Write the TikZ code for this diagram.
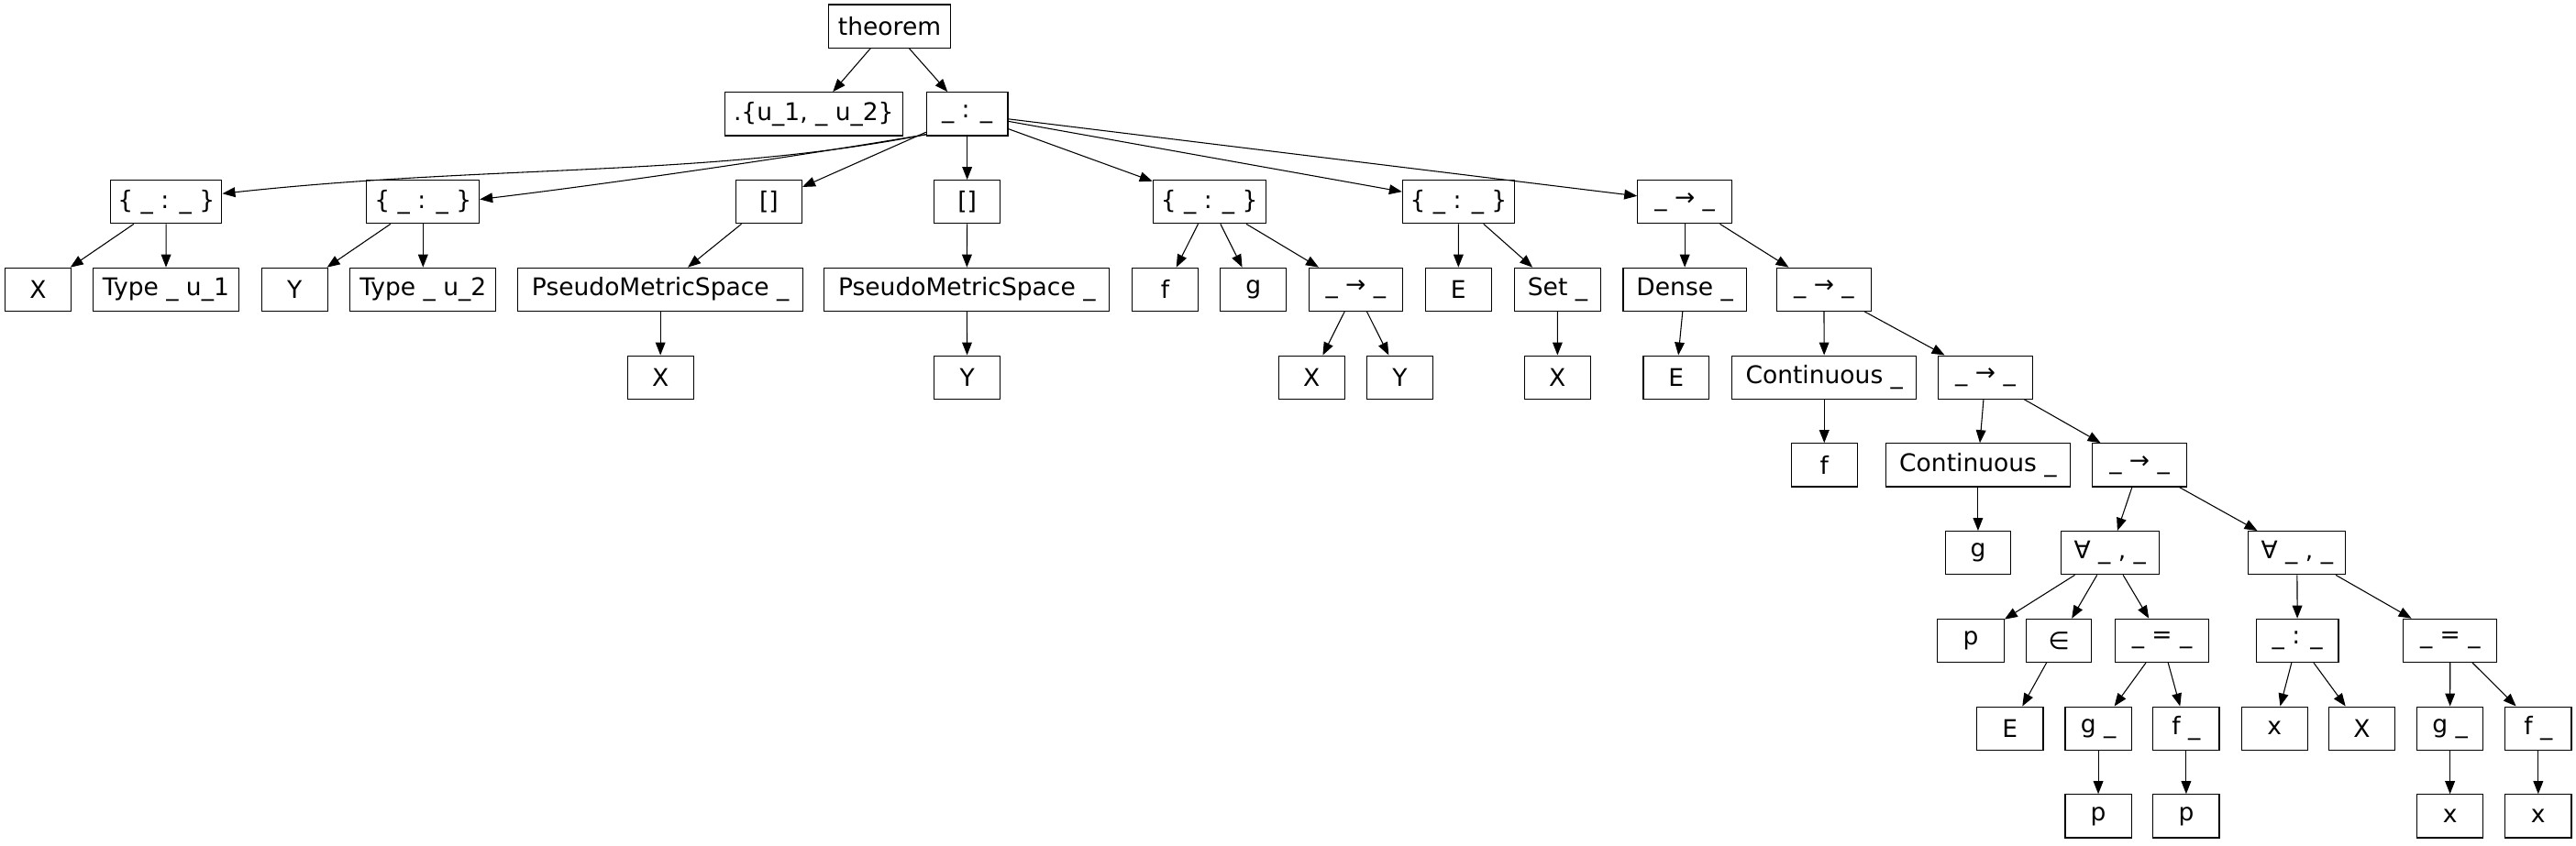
\documentclass[tikz,border=0pt]{standalone}
\usepackage{fontspec}
\setmainfont{DejaVu Sans}
\usepackage{tikz}
\usetikzlibrary{arrows.meta}

\begin{document}
\begin{tikzpicture}[
  x=1pt, y=-1pt,
  nd/.style={draw, line width=0.6pt, minimum width=#1pt, minimum height=26.4pt,
    inner sep=1pt, font=\fontsize{14.8}{17}\selectfont},
  nd/.default=40,
  arr/.style={-{Triangle[length=7.8pt, width=6pt]}, line width=0.6pt}
]
  \useasboundingbox (0,0) rectangle (1568,515.2);

  % Root and binder
  \node[nd=74.3] (thm) at (541.5,16) {theorem};
  \node[nd=108]  (binders) at (495.3,69.4) {.\{u\_1, \_ u\_2\}};
  \node[nd=49.5] (colon) at (588.7,69.4) {\_ : \_};

  % Hypotheses
  \node[nd=67.7] (instX)  at (101.2,122.9) {\{ \_ : \_ \}};
  \node[nd=68.5] (instY)  at (257.5,122.9) {\{ \_ : \_ \}};
  \node[nd=40.3] (brk1)   at (468,122.9)   {[]};
  \node[nd=40.3] (brk2)   at (588.7,122.9) {[]};
  \node[nd=68.6] (instfg) at (736.1,122.9) {\{ \_ : \_ \}};
  \node[nd=68.2] (instE)  at (887.8,122.9) {\{ \_ : \_ \}};
  \node[nd=57.4] (imp1)   at (1025.5,122.9) {\_ → \_};

  % Arguments
  \node[nd]       (vX)    at (23.1,176.3)   {X};
  \node[nd=88.5]  (typ1)  at (101,176.3)    {Type \_ u\_1};
  \node[nd]       (vY)    at (179.3,176.3)  {Y};
  \node[nd=88.9]  (typ2)  at (257.5,176.3)  {Type \_ u\_2};
  \node[nd=173.5] (pms1)  at (402,176.3)    {PseudoMetricSpace \_};
  \node[nd=173.5] (pms2)  at (588.5,176.3)  {PseudoMetricSpace \_};
  \node[nd=40.4]  (vf)    at (709.2,176.3)  {f};
  \node[nd]       (vg)    at (762.9,176.3)  {g};
  \node[nd=57]    (fun)   at (825.2,176.3)  {\_ → \_};
  \node[nd]       (vE)    at (887.7,176.3)  {E};
  \node[nd=52.9]  (set)   at (948.1,176.3)  {Set \_};
  \node[nd=75]    (dense) at (1025.5,176.3) {Dense \_};
  \node[nd=57.2]  (imp2)  at (1110.2,176.3) {\_ → \_};

  \node[nd=40.3]  (pmsX)   at (402,229.8)    {X};
  \node[nd=40.3]  (pmsY)   at (588.7,229.8)  {Y};
  \node[nd]       (funX)   at (798.4,229.8)  {X};
  \node[nd=40.4]  (funY)   at (852.1,229.8)  {Y};
  \node[nd]       (setX)   at (948,229.8)    {X};
  \node[nd]       (denseE) at (1020.3,229.8) {E};
  \node[nd=112.2] (cont1)  at (1110.4,229.8) {Continuous \_};
  \node[nd=57.3]  (imp3)   at (1208.5,229.8) {\_ → \_};

  \node[nd=40.3]  (cont1f) at (1110.4,283.2) {f};
  \node[nd=112.1] (cont2)  at (1204,283.2)   {Continuous \_};
  \node[nd=57.7]  (imp4)   at (1302.3,283.2) {\_ → \_};

  % Conclusion
  \node[nd]      (cont2g) at (1204,336.7)   {g};
  \node[nd=59.6] (all1)   at (1284.3,336.7) {∀ \_ , \_};
  \node[nd=59.2] (all2)   at (1398.2,336.7) {∀ \_ , \_};

  \node[nd=40.5] (pvar) at (1199.6,390.1) {p};
  \node[nd]      (mem)  at (1253.2,390.1) {∈};
  \node[nd=57.3] (eq1)  at (1316,390.1)   {\_ = \_};
  \node[nd=50]   (typx) at (1398.4,390.1) {\_ : \_};
  \node[nd=57]   (eq2)  at (1491.4,390.1) {\_ = \_};

  \node[nd=40.3] (memE) at (1223.5,443.6) {E};
  \node[nd=40.3] (gp)   at (1277.2,443.6) {g \_};
  \node[nd=40.3] (fp)   at (1330.7,443.6) {f \_};
  \node[nd=40.2] (xvar) at (1384.4,443.6) {x};
  \node[nd=40.5] (xtyp) at (1437.6,443.6) {X};
  \node[nd=40.3] (gx)   at (1491.3,443.6) {g \_};
  \node[nd=40.4] (fx)   at (1545,443.6)   {f \_};

  \node[nd=40.3] (gpp) at (1277.2,497) {p};
  \node[nd=40.3] (fpp) at (1330.7,497) {p};
  \node[nd=40.3] (gxx) at (1491.3,497) {x};
  \node[nd=40.4] (fxx) at (1545,497)   {x};

  % Edges
  \draw[arr] (thm) -- (binders);
  \draw[arr] (thm) -- (colon);
  \draw[arr] ([yshift=1pt]colon.south west) .. controls (430,108) and (300,100) .. ([yshift=5pt]instX.east);
  \draw[arr] ([yshift=1pt]colon.south west) .. controls (480,96) and (370,112) .. ([yshift=1.5pt]instY.east);
  \draw[arr] (colon) -- (brk1);
  \draw[arr] (colon) -- (brk2);
  \draw[arr] (colon) -- (instfg);
  \draw[arr] (colon) -- (instE);
  \draw[arr] (colon) -- (imp1);

  \draw[arr] (instX) -- (vX);
  \draw[arr] (instX) -- (typ1);
  \draw[arr] (instY) -- (vY);
  \draw[arr] (instY) -- (typ2);
  \draw[arr] (brk1) -- (pms1);
  \draw[arr] (pms1) -- (pmsX);
  \draw[arr] (brk2) -- (pms2);
  \draw[arr] (pms2) -- (pmsY);
  \draw[arr] (instfg) -- (vf);
  \draw[arr] (instfg) -- (vg);
  \draw[arr] (instfg) -- (fun);
  \draw[arr] (fun) -- (funX);
  \draw[arr] (fun) -- (funY);
  \draw[arr] (instE) -- (vE);
  \draw[arr] (instE) -- (set);
  \draw[arr] (set) -- (setX);

  \draw[arr] (imp1) -- (dense);
  \draw[arr] (imp1) -- (imp2);
  \draw[arr] (dense) -- (denseE);
  \draw[arr] (imp2) -- (cont1);
  \draw[arr] (imp2) -- (imp3);
  \draw[arr] (cont1) -- (cont1f);
  \draw[arr] (imp3) -- (cont2);
  \draw[arr] (imp3) -- (imp4);
  \draw[arr] (cont2) -- (cont2g);
  \draw[arr] (imp4) -- (all1);
  \draw[arr] (imp4) -- (all2);

  \draw[arr] (all1) -- (pvar);
  \draw[arr] (all1) -- (mem);
  \draw[arr] (all1) -- (eq1);
  \draw[arr] (mem) -- (memE);
  \draw[arr] (eq1) -- (gp);
  \draw[arr] (eq1) -- (fp);
  \draw[arr] (gp) -- (gpp);
  \draw[arr] (fp) -- (fpp);
  \draw[arr] (all2) -- (typx);
  \draw[arr] (all2) -- (eq2);
  \draw[arr] (typx) -- (xvar);
  \draw[arr] (typx) -- (xtyp);
  \draw[arr] (eq2) -- (gx);
  \draw[arr] (eq2) -- (fx);
  \draw[arr] (gx) -- (gxx);
  \draw[arr] (fx) -- (fxx);
\end{tikzpicture}
\end{document}
